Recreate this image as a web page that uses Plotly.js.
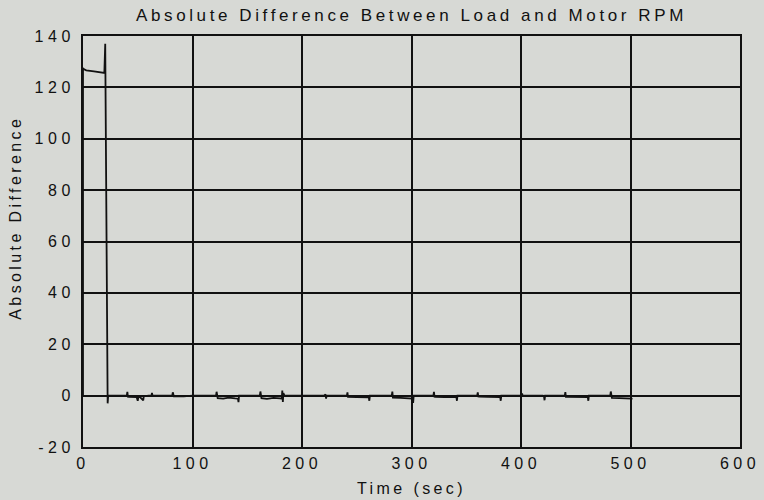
<!DOCTYPE html>
<html>
<head>
<meta charset="utf-8">
<script src="https://cdn.plot.ly/plotly-3.0.1.min.js"></script>
<style>
  html, body { margin: 0; padding: 0; background: #d7d9d5; }
  #chart { width: 764px; height: 500px; }
  .xtick text, .ytick text { letter-spacing: 4.5px; }
  .gtitle { letter-spacing: 3.6px; }
  .annotation-text { letter-spacing: 3.4px; }
</style>
</head>
<body>
<div id="chart"></div>
<script>
// Time (sec)
var time = [0, 0, 1, 3, 10, 19.5, 20.3, 22.5, 23,
  40, 40.5, 41, 42, 49, 50, 50.5, 52, 55, 55.5, 60, 62.5, 63, 63.5, 80, 81.5, 82, 83, 92, 100,
  120, 121.5, 122, 123, 128, 133, 139, 141.5, 142, 142.5,
  160, 161.5, 162, 163, 168, 174, 180, 181.5, 182, 182.5, 183, 184,
  200, 220, 221.5, 222, 222.5, 225,
  240, 241, 241.5, 242, 250, 260, 261, 261.5, 262,
  280, 282, 282.5, 283, 290, 300, 301, 301.5, 302,
  320, 320.5, 321, 322, 330, 340, 341, 341.5, 342,
  360, 360.5, 361, 362, 370, 380, 381, 381.5, 382,
  400, 401, 401.5, 402, 420, 421, 421.5, 422,
  440, 440.5, 441, 442, 450, 460, 461, 461.5, 462,
  480, 481.5, 482, 483, 490, 500, 501, 501.5];
// Absolute difference between load and motor RPM
var diff = [0, 127.5, 127, 126.6, 126.2, 125.6, 137, -3, 0,
  0, 1.5, -0.4, -0.5, -0.6, -2, -0.5, -0.6, -1.8, -0.3, 0, 0, 1, 0, 0, 0, 1.3, -0.3, -0.3, 0,
  0, 0, 1.5, -1, -1.2, -0.8, -1.1, -1.2, -2.5, 0,
  0, 0, 1.6, -1, -1.3, -0.9, -1.1, -1.2, 2, -2.5, 1, 0,
  0, 0, 0.5, -1.2, 0, 0,
  0, 0, 1.3, -0.5, -0.6, -0.7, -0.7, -2, 0,
  0, 0, 1.6, -0.8, -0.9, -1, -1.2, -2.8, 0,
  0, 1.5, -0.4, -0.5, -0.6, -0.6, -0.6, -2, 0,
  0, 1.3, -0.3, -0.4, -0.5, -0.6, -0.6, -2, 0,
  0, 0.8, 0, 0, 0, -0.3, -1.8, 0,
  0, 1.4, -0.5, -0.5, -0.6, -0.6, -0.6, -2, 0,
  0, 0, 1.6, -0.9, -1, -1, -1.2, -1.5];

var xTicks = [0, 100, 200, 300, 400, 500, 600];
var yTicks = [-20, 0, 20, 40, 60, 80, 100, 120, 140];

var fontFam = 'Liberation Sans, Arial, Helvetica, sans-serif';

var trace = {
  x: time,
  y: diff,
  type: 'scatter',
  mode: 'lines',
  line: { color: '#111111', width: 1.8 },
  hoverinfo: 'x+y'
};

var layout = {
  width: 764,
  height: 500,
  paper_bgcolor: '#d7d9d5',
  plot_bgcolor: '#d7d9d5',
  margin: { l: 83, r: 24, t: 36, b: 53 },
  showlegend: false,
  title: {
    text: 'Absolute Difference Between Load and Motor RPM',
    x: 0.5,
    xref: 'paper',
    xanchor: 'center',
    y: 0.97,
    yref: 'container',
    yanchor: 'middle',
    font: { family: fontFam, size: 17, color: '#111111' }
  },
  xaxis: {
    range: [0, 600],
    tickmode: 'array',
    tickvals: xTicks,
    ticktext: xTicks.map(String),
    showgrid: true,
    gridcolor: '#111111',
    gridwidth: 2,
    zeroline: false,
    showline: true,
    linecolor: '#111111',
    linewidth: 2,
    mirror: true,
    ticks: '',
    ticklabelstandoff: 1,
    tickfont: { family: fontFam, size: 16, color: '#111111' },
    automargin: false
  },
  yaxis: {
    range: [-20, 140],
    tickmode: 'array',
    tickvals: yTicks,
    ticktext: yTicks.map(String),
    showgrid: true,
    gridcolor: '#111111',
    gridwidth: 2,
    zeroline: false,
    showline: true,
    linecolor: '#111111',
    linewidth: 2,
    mirror: true,
    ticks: '',
    ticklabelstandoff: 3,
    tickfont: { family: fontFam, size: 16, color: '#111111' },
    automargin: false
  },
  annotations: [
    {
      text: 'Time (sec)',
      xref: 'paper', yref: 'paper',
      x: 0.5, y: -0.1,
      xanchor: 'center', yanchor: 'middle',
      showarrow: false,
      font: { family: fontFam, size: 16, color: '#111111' }
    },
    {
      text: 'Absolute Difference',
      xref: 'paper', yref: 'paper',
      x: -0.104, y: 0.557,
      xanchor: 'center', yanchor: 'middle',
      textangle: -90,
      showarrow: false,
      font: { family: fontFam, size: 16, color: '#111111' }
    }
  ]
};

Plotly.newPlot('chart', [trace], layout, { staticPlot: true, displayModeBar: false });
</script>
</body>
</html>
